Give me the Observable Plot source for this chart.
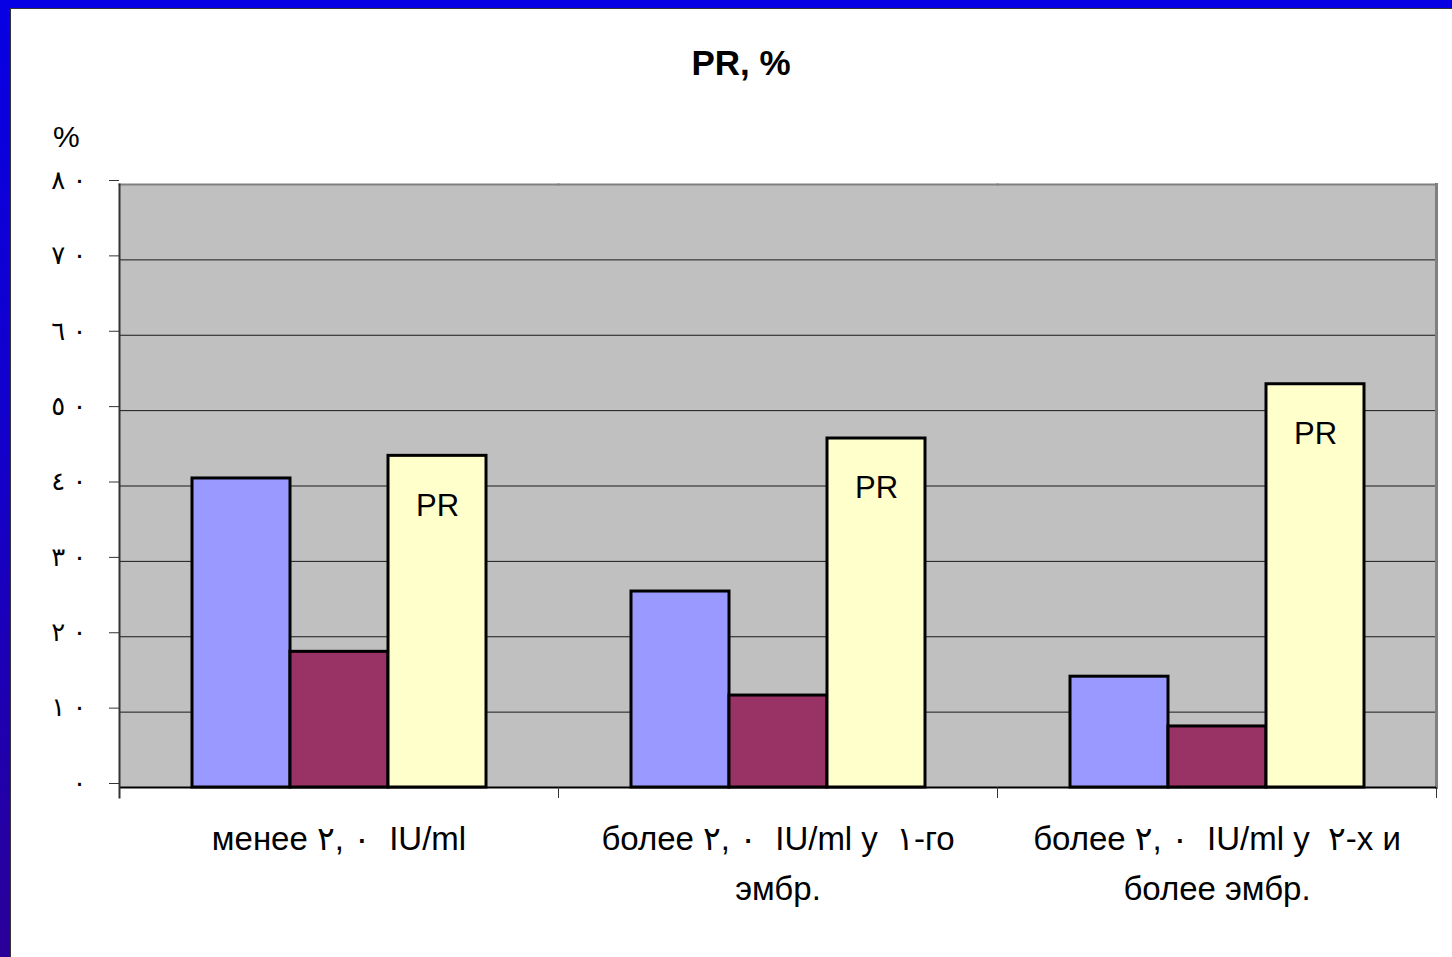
<!DOCTYPE html>
<html>
<head>
<meta charset="utf-8">
<script src="https://cdn.jsdelivr.net/npm/d3@7"></script>
<script src="https://cdn.jsdelivr.net/npm/@observablehq/plot@0.6"></script>
<style>
  html, body { margin: 0; padding: 0; }
  body { width: 1452px; height: 957px; overflow: hidden; font-family: "Liberation Sans", "DejaVu Sans", sans-serif; }
  #page { position: absolute; left: 0; top: 0; width: 1452px; height: 957px;
          background: linear-gradient(to bottom, #0800e4 0%, #1400c8 50%, #2a0098 100%); }
  #panel { position: absolute; left: 10px; top: 8px; width: 1460px; height: 970px; background: #fff;
           border-left: 1px solid #333; border-top: 1px solid #333; }
  #title { position: absolute; left: 0; top: 45px; width: 1482px; text-align: center;
           font: bold 35px/35px "Liberation Sans", "DejaVu Sans", sans-serif; color: #000; }
  #unit { position: absolute; left: 53px; top: 122px; font: 30px/30px "Liberation Sans", "DejaVu Sans", sans-serif; color: #000; }
  #chart { position: absolute; left: 0; top: 100px; }
  #chart svg { background: transparent; }
</style>
</head>
<body>
<div id="page"><div id="panel"></div>
  <div id="title">PR, %</div>
  <div id="unit">%</div>
  <div id="chart"></div>
</div>
<script>
const categories = [
  "менее ٢,\u200E \u200E٠  IU/ml",
  "более ٢,\u200E \u200E٠  IU/ml у  ١-го\nэмбр.",
  "более ٢,\u200E \u200E٠  IU/ml у  ٢-х и\nболее эмбр."
];
const seriesNames = ["ряд 1", "ряд 2", "PR"];
const blueValues = [41, 26, 14.7];
const maroonValues = [18, 12.2, 8.1];
const prValues = [44, 46.3, 53.5];
const yTicks = [0, 10, 20, 30, 40, 50, 60, 70, 80];
const seriesColors = ["#9999ff", "#993366", "#ffffcc"];

const valuesBySeries = [blueValues, maroonValues, prValues];
const rows = [];
categories.forEach((cat, i) => {
  seriesNames.forEach((s, j) => rows.push({cat, series: s, value: valuesBySeries[j][i]}));
});

const arabDigits = "٠١٢٣٤٥٦٧٨٩";
const arab = d => String(d).split("").map(c => arabDigits[+c]).join(" \u200E");

const chart = Plot.plot({
  width: 1452,
  height: 857,
  marginLeft: 119,
  marginRight: 16,
  marginTop: 84,
  marginBottom: 170,
  style: {fontFamily: "'Liberation Sans', 'DejaVu Sans', sans-serif", color: "#000", background: "transparent"},
  fx: {domain: categories, padding: 0, label: null},
  x: {domain: seriesNames, paddingInner: 0, paddingOuter: 0.73, axis: null},
  y: {domain: [0, 80], axis: null},
  color: {domain: seriesNames, range: seriesColors},
  marks: [
    Plot.frame({fill: "#c0c0c0", stroke: "#c0c0c0", strokeWidth: 1}),
    Plot.gridY(yTicks.filter(t => t > 0 && t < 80), {stroke: "#1a1a1a", strokeOpacity: 1, strokeWidth: 1}),
    Plot.frame({anchor: "top", stroke: "#808080", strokeWidth: 2}),
    Plot.frame({anchor: "right", stroke: "#808080", strokeWidth: 3, fx: [categories[2]]}),
    Plot.barY(rows, {fx: "cat", x: "series", y: "value", fill: "series", stroke: "#000", strokeWidth: 3}),
    Plot.ruleY([0], {stroke: "#000", strokeWidth: 2}),
    Plot.frame({anchor: "left", stroke: "#333", strokeWidth: 2, insetBottom: -10, fx: [categories[0]]}),
    Plot.frame({anchor: "left", stroke: "#333", strokeWidth: 1, insetTop: 603, insetBottom: -10}),
    Plot.frame({anchor: "right", stroke: "#333", strokeWidth: 1, insetTop: 603, insetBottom: -10}),
    Plot.axisY({ticks: yTicks, tickFormat: arab, tickSize: 10, tickPadding: 23, fontSize: 26, dy: -4, label: null, stroke: "#333"}),
    Plot.axisFx({anchor: "bottom", tickSize: 0, tickPadding: 27, fontSize: 33, lineHeight: 1.52, label: null, tickFormat: d => d}),
    Plot.text(rows.filter(d => d.series === "PR"), {fx: "cat", x: "series", y: "value", text: "series", dy: 50, fontSize: 31, fill: "#000"})
  ]
});
document.getElementById("chart").appendChild(chart);
</script>
</body>
</html>
